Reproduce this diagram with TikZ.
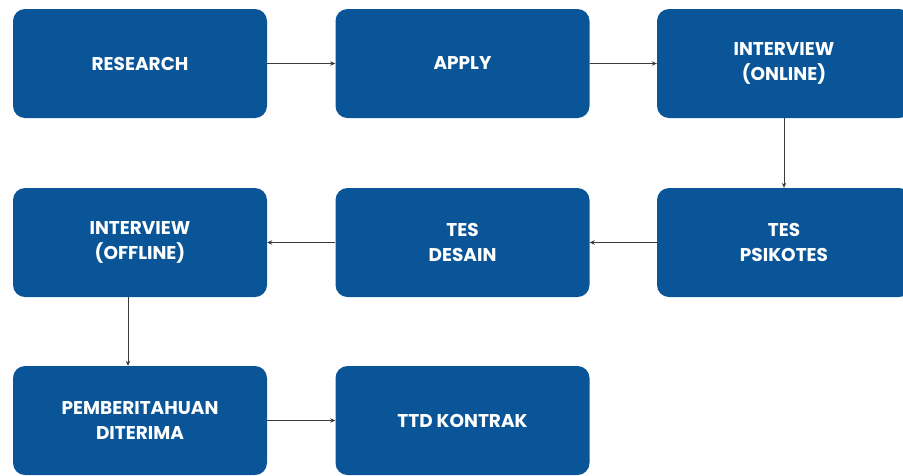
\documentclass[tikz,border=0pt]{standalone}
\usepackage{fontspec}
\setmainfont{Poppins}
\usetikzlibrary{arrows.meta}
\definecolor{boxblue}{RGB}{10,85,152}
\definecolor{linegray}{RGB}{55,60,65}
\begin{document}
\begin{tikzpicture}[x=1pt,y=-1pt,
  stepbox/.style={fill=boxblue, rounded corners=12pt, minimum width=254pt, minimum height=109pt,
    inner sep=0pt, text=white, font=\bfseries\fontsize{18.5}{24.5}\selectfont, align=center},
  conn/.style={draw=linegray, line width=1pt, -{Stealth[length=5pt,width=4.5pt]}}]
\useasboundingbox (0,0) rectangle (903,475);
\node[stepbox] (research) at (140,63.5) {RESEARCH};
\node[stepbox] (apply) at (462.5,63.5) {APPLY};
\node[stepbox] (ionline) at (784,63.5) {INTERVIEW\\(ONLINE)};
\node[stepbox] (psiko) at (784,242.5) {TES\\PSIKOTES};
\node[stepbox] (desain) at (462.5,242.5) {TES\\DESAIN};
\node[stepbox] (ioffline) at (140,242.5) {INTERVIEW\\(OFFLINE)};
\node[stepbox] (pember) at (140,420.5) {PEMBERITAHUAN\\DITERIMA};
\node[stepbox] (ttd) at (462.5,420.5) {TTD KONTRAK};
\draw[conn] (research) -- (apply);
\draw[conn] (apply) -- (ionline);
\draw[conn] (ionline) -- (psiko);
\draw[conn] (psiko) -- (desain);
\draw[conn] (desain) -- (ioffline);
\draw[conn] (ioffline.south -| 128,0) -- (pember.north -| 128,0);
\draw[conn] (pember) -- (ttd);
\end{tikzpicture}
\end{document}
